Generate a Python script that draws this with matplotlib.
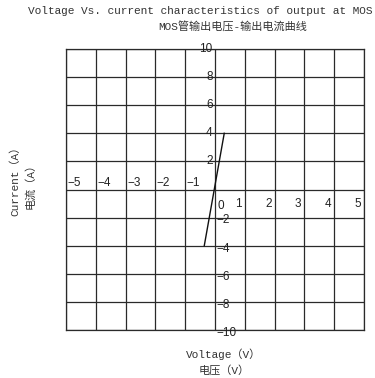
import matplotlib
matplotlib.use("Agg")
import matplotlib.pyplot as plt

# data
x_ticks = [-5, -4, -3, -2, -1, 0, 1, 2, 3, 4, 5]
y_ticks = [-10, -8, -6, -4, -2, 0, 2, 4, 6, 8, 10]
line_v = [-0.36, 0.31]
line_i = [-4, 4]

title1 = "Voltage Vs. current characteristics of output at MOS"
title2 = "MOS管输出电压-输出电流曲线"
xlabel1 = "Voltage\uff08V\uff09"
xlabel2 = "电压\uff08V\uff09"
ylabel1 = "Current\uff08A\uff09"
ylabel2 = "电流\uff08A\uff09"

serif = ['Liberation Mono', 'Noto Sans CJK SC']
num = ['Liberation Sans', 'DejaVu Sans']
NFS = 8.5

W, H = 375, 378
fig = plt.figure(figsize=(W / 100, H / 100), dpi=100)
ax = fig.add_axes([66 / W, 1 - 330 / H, (364 - 66) / W, (330 - 49) / H])
ax.set_xlim(-5, 4.93)
ax.set_ylim(-10, 10)
ax.set_xticks(x_ticks)
ax.set_yticks(y_ticks)
ax.grid(True, color='#2a2a2a', lw=0.9)
ax.tick_params(length=0, labelbottom=False, labelleft=False)
for s in ax.spines.values():
    s.set_color('#2a2a2a')
    s.set_linewidth(0.9)

ax.plot(line_v, line_i, color='#111111', lw=1.0)

# tick labels (placed like reference)
for v in x_ticks:
    if v < 0:
        ax.text(v + 0.05, 0.45, "\u2212%d" % (-v), ha='left', va='center',
                fontsize=NFS, family=num, color='#222222')
    elif v > 0:
        ax.text(v - 0.1, -1.0, "%d" % v, ha='right', va='center',
                fontsize=NFS, family=num, color='#222222')
ax.text(0.08, -1.2, "0", ha='left', va='center', fontsize=NFS, family=num,
        color='#222222')
for v in y_ticks:
    if v > 0:
        ax.text(-0.08, v, "%d" % v, ha='right', va='center', fontsize=NFS,
                family=num, color='#222222', clip_on=False)
    elif v < 0:
        ax.text(0.05, v - 0.2, "\u2212%d" % (-v), ha='left', va='center',
                fontsize=NFS, family=num, color='#222222', clip_on=False)

fig.text(200 / W, 1 - 11 / H, title1, ha='center', va='center',
         fontsize=8, family=serif, color='#333333')
fig.text(233 / W, 1 - 27 / H, title2, ha='center', va='center',
         fontsize=8, family=serif, color='#333333')
fig.text(224 / W, 1 - 354 / H, xlabel1, ha='center', va='center',
         fontsize=8, family=serif, color='#333333')
fig.text(224 / W, 1 - 370 / H, xlabel2, ha='center', va='center',
         fontsize=8, family=serif, color='#333333')
fig.text(15 / W, 1 - 178 / H, ylabel1, ha='center', va='center',
         fontsize=8, family=serif, color='#333333', rotation=90)
fig.text(30 / W, 1 - 183 / H, ylabel2, ha='center', va='center',
         fontsize=8, family=serif, color='#333333', rotation=90)

fig.savefig("out.png", dpi=100)
